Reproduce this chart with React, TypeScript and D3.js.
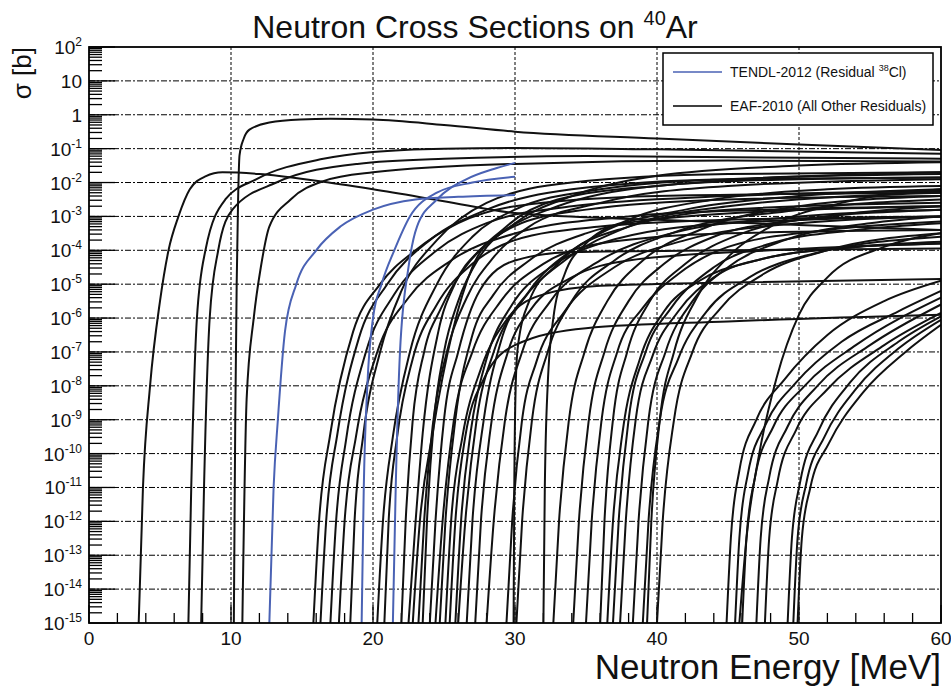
import React, { useEffect, useRef } from "react";
import * as d3 from "d3";

// points are [E in MeV, log10(sigma in b)]
const tendlCurves = [
  [[12.7, -15], [13.0, -11], [13.3, -9], [13.8, -6.4], [14.6, -5], [16, -4], [17.7, -3.3], [20, -2.8], [23, -2.5], [26, -2.42], [30, -2.37]],
  [[19.2, -15], [19.35, -11], [19.6, -8], [20.0, -6], [20.6, -5], [21.5, -4], [22.6, -3], [24.5, -2.3], [27, -2], [30, -1.83]],
  [[21.4, -15], [21.6, -11], [21.9, -7], [22.5, -4.5], [23.1, -3.3], [24.5, -2.5], [26.6, -1.9], [28.5, -1.6], [30, -1.42]],
];

const eafLow = [
  [[3.5, -15], [3.8, -11], [4.3, -8], [5.0, -5.5], [5.6, -4], [6.3, -3], [7.1, -2.2], [8.2, -1.82], [9.4, -1.7], [12, -1.75], [16, -1.95], [20, -2.2], [25, -2.55], [30, -2.9], [40, -3.1], [50, -3.25], [60, -3.4]],
  [[10.2, -15], [10.3, -9], [10.4, -5], [10.5, -2.5], [10.6, -1.2], [10.9, -0.7], [11.3, -0.44], [12.7, -0.23], [14.9, -0.14], [17, -0.12], [20, -0.14], [25, -0.3], [30, -0.5], [40, -0.7], [50, -0.88], [60, -1.04]],
  [[7.0, -15], [7.2, -11], [7.6, -6], [8.2, -4], [9.6, -2.5], [11.8, -1.9], [16.5, -1.3], [20, -1.1], [25, -1.0], [30, -0.98], [40, -1.02], [60, -1.15]],
  [[7.9, -15], [8.1, -11], [8.5, -6], [9.1, -4], [10.1, -2.8], [13.2, -2.0], [18.9, -1.45], [25, -1.3], [35, -1.22], [60, -1.3]],
  [[10.8, -15], [11.1, -8.4], [11.6, -6], [12.1, -4.5], [12.7, -3.3], [14.2, -2.5], [16.5, -1.96], [20, -1.7], [30, -1.45], [45, -1.35], [60, -1.38]],
];

const eafMid = [
  [[15.8, -15], [16.2, -12], [17.0, -9.4], [18.6, -6.4], [20.5, -5], [23, -4], [26, -3.2], [30, -2.7], [40, -2.4], [60, -2.3]],
  [[16.3, -15], [16.7, -12], [17.5, -9.4], [19, -6.6], [21, -5], [24, -3.7], [28, -2.8], [34, -2.2], [45, -1.9], [60, -1.85]],
  [[17.0, -15], [17.4, -12], [18.1, -9.6], [19.5, -7], [21.5, -5.3], [24.5, -4], [28, -3.2], [34, -2.7], [45, -2.4], [60, -2.25]],
  [[17.6, -15], [18.0, -12], [18.8, -9.5], [20.3, -7], [22.5, -5.4], [25.5, -4.3], [30, -3.5], [38, -3], [48, -2.8], [60, -2.7]],
  [[18.4, -15], [18.7, -12], [19.3, -9.5], [20.5, -7], [22, -5.2], [24.5, -3.7], [28, -2.6], [34, -2], [45, -1.75], [60, -1.7]],
  [[20.3, -15], [20.7, -12], [21.4, -9.5], [22.6, -7], [24.5, -5], [27, -3.6], [30, -2.8], [36, -2.2], [45, -1.9], [60, -1.75]],
  [[20.8, -15], [21.1, -12], [21.7, -9.5], [22.8, -7.2], [24.5, -5.6], [27, -4.4], [30, -3.7], [36, -3.3], [45, -3.1], [60, -3.0]],
];

const eafHigh = [
  [[22.0, -15], [22.3, -12], [22.8, -9], [23.6, -7], [24.8, -5.7], [26.5, -4.5], [29, -3.5], [33, -2.7], [40, -2.1], [60, -1.7]],
  [[22.5, -15], [23.0, -12], [23.5, -9.4], [24.6, -6.4], [25.8, -4.96], [27.5, -4], [29.9, -3.3], [35, -2.8], [45, -2.5], [60, -2.4]],
  [[22.8, -15], [23.3, -12], [24.2, -9.4], [25.6, -6.4], [27.0, -4.5], [29.4, -3.3], [33, -2.5], [40, -2.1], [50, -1.9], [60, -1.85]],
  [[23.2, -15], [23.6, -12], [24.2, -9.2], [25.2, -7], [26.6, -5.4], [28.5, -4.2], [31, -3.3], [36, -2.6], [45, -2.1], [60, -1.9]],
  [[23.5, -15], [23.8, -12], [24.3, -9], [25.0, -7], [26, -5.5], [27.5, -4.2], [30, -3.2], [34, -2.4], [40, -1.8], [50, -1.5], [60, -1.4]],
  [[24.0, -15], [24.4, -12], [25.0, -9], [26.0, -7], [27.5, -5.2], [30, -4.3], [34, -4.05], [45, -4.0], [60, -3.95]],
  [[24.4, -15], [24.9, -12], [25.7, -9], [27, -7], [29, -5.5], [32, -4.4], [36, -3.8], [45, -3.5], [60, -3.4]],
  [[24.7, -15], [25.1, -12], [25.8, -9], [27, -6.5], [28.5, -5.3], [31, -4.3], [35, -3.5], [42, -3], [60, -2.7]],
  [[25.1, -15], [25.5, -12], [26.3, -9.5], [27.6, -7.5], [29.5, -6], [32, -5.3], [36, -5.05], [45, -4.95], [60, -4.85]],
  [[25.4, -15], [25.8, -12], [26.5, -9.5], [27.8, -7.8], [30, -6.8], [35, -6.3], [45, -6.1], [60, -5.9]],
  [[25.8, -15], [26.2, -12], [26.9, -9.3], [28, -7.2], [29.8, -5.6], [32.5, -4.5], [36, -3.8], [45, -3.2], [60, -3.0]],
  [[26.0, -15], [26.5, -12], [27.3, -9], [28.5, -7], [30.5, -5.5], [33.5, -4.3], [38, -3.3], [45, -2.7], [60, -2.3]],
  [[26.6, -15], [27.0, -12], [27.8, -9], [29, -6.7], [31, -5.2], [34, -4], [38, -3.3], [45, -2.8], [60, -2.6]],
  [[27.2, -15], [27.6, -12], [28.3, -9.2], [29.5, -7], [31.2, -5.7], [34, -4.8], [38, -4.3], [48, -4.0], [60, -3.8]],
  [[28.0, -15], [28.5, -12], [29.3, -9], [30.5, -7], [32.5, -5.5], [36, -4.3], [41, -3.5], [50, -3], [60, -2.8]],
  [[29.4, -15], [29.8, -12], [30.5, -9], [31.5, -7.3], [33.5, -5.8], [37, -4.5], [42, -3.7], [50, -3.2], [60, -3]],
  [[29.9, -15], [29.95, -11], [30.05, -8], [30.2, -6.85], [31, -5.5], [33, -4.4], [36, -3.5], [42, -2.8], [50, -2.4], [60, -2.2]],
  [[30.1, -15], [30.5, -12], [31.2, -9], [32.3, -7], [34, -5.5], [37, -4.3], [41, -3.5], [50, -2.8], [60, -2.5]],
];

const eafUpper = [
  [[32.0, -15], [32.1, -11], [32.3, -8], [32.7, -6], [33.5, -4.7], [35, -3.8], [38, -3.1], [44, -2.5], [52, -2.2], [60, -2.1]],
  [[32.7, -15], [33.1, -12], [33.8, -9], [34.9, -7], [36.5, -5.5], [39, -4.3], [43, -3.4], [50, -2.7], [60, -2.4]],
  [[34.1, -15], [34.5, -12], [35.2, -9], [36.3, -7], [38, -5.5], [40.5, -4.4], [44, -3.6], [50, -3.1], [60, -2.8]],
  [[35.0, -15], [35.4, -12], [36.1, -9], [37.2, -7], [39, -5.7], [41.5, -4.7], [45, -3.9], [52, -3.4], [60, -3.15]],
  [[36.0, -15], [36.3, -12], [36.9, -9], [37.9, -7], [39.5, -5.5], [42, -4.4], [46, -3.5], [52, -3], [60, -2.7]],
  [[36.5, -15], [36.9, -12], [37.6, -9.3], [38.8, -7.2], [40.5, -5.8], [43, -4.9], [47, -4.3], [54, -3.9], [60, -3.75]],
  [[36.9, -15], [37.3, -12], [38, -9], [39.2, -7], [41, -5.7], [44, -4.5], [48, -3.8], [54, -3.4], [60, -3.2]],
  [[37.4, -15], [37.8, -12], [38.5, -9], [39.7, -7.1], [41.5, -5.8], [44, -4.8], [48, -4.2], [54, -3.9], [60, -3.8]],
  [[38.3, -15], [38.7, -12], [39.4, -9], [40.6, -7], [42.5, -5.5], [45, -4.5], [49, -3.7], [55, -3.2], [60, -3]],
  [[39.0, -15], [39.4, -12], [40.2, -9], [41.5, -7.2], [43.5, -5.8], [46.5, -4.8], [51, -4.1], [60, -3.6]],
  [[39.3, -15], [39.6, -12], [40.2, -9], [41.2, -7], [42.8, -5.4], [45, -4.2], [48, -3.3], [53, -2.6], [60, -2.2]],
  [[40.0, -15], [40.4, -12], [41.2, -9], [42.5, -7], [44.5, -5.7], [47.5, -4.7], [52, -4], [60, -3.5]],
];

const eafTop = [
  [[44.9, -15], [45.2, -12.5], [45.8, -10.5], [47, -9], [49, -7.8], [52, -6.5], [56, -5.5], [60, -4.9]],
  [[45.5, -15], [45.8, -12.5], [46.4, -10.6], [47.7, -9.1], [49.8, -7.9], [53, -6.7], [57, -5.8], [60, -5.2]],
  [[45.8, -15], [46.3, -12.5], [47.2, -10], [48.4, -7.8], [50, -5.9], [52, -4.8], [56, -3.9], [60, -3.5]],
  [[46.0, -15], [46.3, -12.5], [46.9, -10.7], [48.2, -9.2], [50.4, -8], [54, -6.8], [60, -5.4]],
  [[47.0, -15], [47.3, -12.5], [47.9, -10.7], [49.2, -9.2], [51.3, -8], [55, -6.8], [60, -5.6]],
  [[47.6, -15], [47.9, -12.5], [48.5, -10.8], [49.8, -9.3], [52, -8.1], [56, -6.8], [60, -5.85]],
  [[49.2, -15], [49.5, -12.5], [50.1, -10.8], [51.4, -9.3], [53.6, -7.9], [57, -6.7], [60, -5.95]],
  [[49.6, -15], [49.9, -12.5], [50.5, -10.9], [51.8, -9.5], [54, -8.1], [57, -6.9], [60, -6.05]],
  [[49.9, -15], [50.2, -12.5], [50.8, -11], [52.1, -9.7], [54.5, -8.2], [57.5, -7], [60, -6.2]],
];

const xTicks = [0, 10, 20, 30, 40, 50, 60];
const yExponents = [2, 1, 0, -1, -2, -3, -4, -5, -6, -7, -8, -9, -10, -11, -12, -13, -14, -15];
const legendItems = [
  { label: "TENDL-2012 (Residual ", sup: "38", tail: "Cl)", color: "#4a62b4" },
  { label: "EAF-2010 (All Other Residuals)", sup: "", tail: "", color: "#000" },
];

const W = 951;
const H = 688;
const margin = { top: 47, right: 10, bottom: 65, left: 89 };
const FONT = "'Liberation Sans', Arial, Helvetica, sans-serif";

const App = () => {
  const svgRef = useRef(null);

  useEffect(() => {
    const svg = d3.select(svgRef.current);
    svg.selectAll("*").remove();

    const x = d3.scaleLinear().domain([0, 60]).range([margin.left, W - margin.right]);
    const y = d3.scaleLog().domain([1e-15, 1e2]).range([H - margin.bottom, margin.top]);
    const [x0, x1] = x.range();
    const [yb, yt] = y.range();

    svg.append("rect").attr("width", W).attr("height", H).attr("fill", "#fff");

    svg.append("clipPath").attr("id", "plotclip")
      .append("rect").attr("x", x0).attr("y", yt).attr("width", x1 - x0).attr("height", yb - yt);

    // grid
    const grid = svg.append("g");
    yExponents.filter((e) => e < 2 && e > -15).forEach((e) => {
      grid.append("line")
        .attr("x1", x0).attr("x2", x1)
        .attr("y1", y(Math.pow(10, e))).attr("y2", y(Math.pow(10, e)))
        .attr("stroke", "#000").attr("stroke-width", 1)
        .attr("stroke-dasharray", "6,2,2,2");
    });
    xTicks.filter((t) => t > 0 && t < 60).forEach((t) => {
      grid.append("line")
        .attr("x1", x(t)).attr("x2", x(t))
        .attr("y1", yt).attr("y2", yb)
        .attr("stroke", "#000").attr("stroke-width", 1)
        .attr("stroke-dasharray", "3,2");
    });

    // y ticks: major + minor 2..9
    const ticks = svg.append("g").attr("stroke", "#000").attr("stroke-width", 1.3);
    yExponents.forEach((e) => {
      const yy = y(Math.pow(10, e));
      ticks.append("line").attr("x1", x0).attr("x2", x0 + 26).attr("y1", yy).attr("y2", yy);
      if (e < 2) {
        d3.range(2, 10).forEach((k) => {
          const ym = y(k * Math.pow(10, e));
          ticks.append("line").attr("x1", x0).attr("x2", x0 + 13).attr("y1", ym).attr("y2", ym);
        });
      }
    });
    // x ticks every 2 MeV
    d3.range(0, 61, 2).forEach((t) => {
      const len = t % 10 === 0 ? 18 : 10;
      ticks.append("line").attr("x1", x(t)).attr("x2", x(t)).attr("y1", yb).attr("y2", yb - len);
    });

    // curves
    const line = d3.line()
      .x((d) => x(d[0]))
      .y((d) => y(Math.pow(10, d[1])))
      .curve(d3.curveMonotoneX);

    const curves = svg.append("g").attr("clip-path", "url(#plotclip)").attr("fill", "none");
    [...eafLow, ...eafMid, ...eafHigh, ...eafUpper, ...eafTop].forEach((c) => {
      curves.append("path").attr("d", line(c)).attr("stroke", "#111").attr("stroke-width", 2);
    });
    tendlCurves.forEach((c) => {
      curves.append("path").attr("d", line(c)).attr("stroke", "#4a62b4").attr("stroke-width", 2);
    });

    // frame
    svg.append("rect")
      .attr("x", x0).attr("y", yt).attr("width", x1 - x0).attr("height", yb - yt)
      .attr("fill", "none").attr("stroke", "#000").attr("stroke-width", 1.8);

    // y labels
    const yl = svg.append("g").attr("font-family", FONT).attr("fill", "#111");
    yExponents.forEach((e) => {
      const yy = y(Math.pow(10, e));
      const t = yl.append("text").attr("x", x0 - 7).attr("y", yy + 7).attr("text-anchor", "end").attr("font-size", 19);
      if (e === 1) t.text("10");
      else if (e === 0) t.text("1");
      else {
        t.append("tspan").text("10");
        t.append("tspan").attr("font-size", 12).attr("dy", -8).text(e < 0 ? `-${-e}` : `${e}`);
      }
    });

    // x labels
    xTicks.forEach((t) => {
      yl.append("text").attr("x", x(t)).attr("y", yb + 22).attr("text-anchor", "middle").attr("font-size", 19).text(t);
    });

    // titles
    const title = svg.append("text").attr("x", 475).attr("y", 38).attr("text-anchor", "middle")
      .attr("font-family", FONT).attr("font-size", 32).attr("fill", "#111");
    title.append("tspan").text("Neutron Cross Sections on ");
    title.append("tspan").attr("font-size", 20).attr("dy", -13).text("40");
    title.append("tspan").attr("dy", 13).text("Ar");

    svg.append("text").attr("x", x1).attr("y", 679).attr("text-anchor", "end")
      .attr("font-family", FONT).attr("font-size", 35).attr("fill", "#111").text("Neutron Energy [MeV]");

    svg.append("text").attr("transform", `translate(31,${yt}) rotate(-90)`).attr("text-anchor", "end")
      .attr("font-family", FONT).attr("font-size", 26).attr("fill", "#111").text("σ [b]");

    // legend
    const lg = svg.append("g");
    lg.append("rect").attr("x", 663).attr("y", 53).attr("width", 270).attr("height", 72)
      .attr("fill", "#fff").attr("stroke", "#000").attr("stroke-width", 1.5);
    legendItems.forEach((it, i) => {
      const ly = 72 + i * 34;
      lg.append("line").attr("x1", 673).attr("x2", 722).attr("y1", ly).attr("y2", ly)
        .attr("stroke", it.color).attr("stroke-width", 1.5);
      const t = lg.append("text").attr("x", 730).attr("y", ly + 5)
        .attr("font-family", FONT).attr("font-size", 14).attr("fill", "#111");
      t.append("tspan").text(it.label);
      if (it.sup) {
        t.append("tspan").attr("font-size", 9).attr("dy", -6).text(it.sup);
        t.append("tspan").attr("dy", 6).text(it.tail);
      }
    });
  }, []);

  return (
    <svg ref={svgRef} width={W} height={H}
      style={{ position: "absolute", left: 0, top: 0, display: "block" }} />
  );
};

export default App;
